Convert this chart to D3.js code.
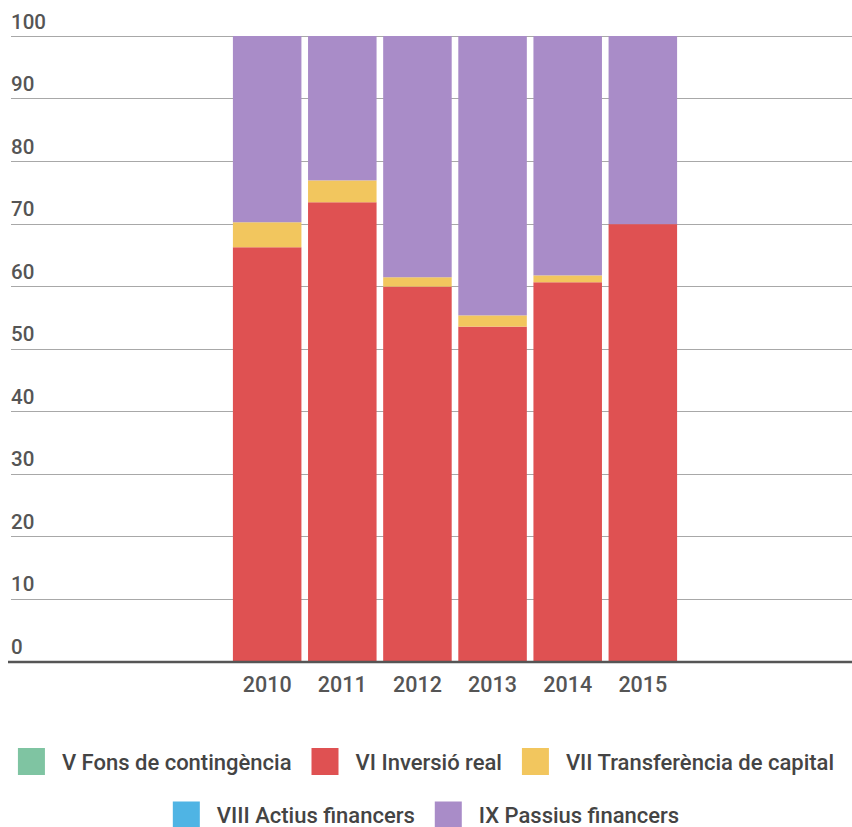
<!DOCTYPE html>
<html>
<head>
<meta charset="utf-8">
<script src="https://cdn.jsdelivr.net/npm/d3@7"></script>
<style>
  body { margin: 0; background: #fff; }
  svg { display: block; font-family: Roboto, "Noto Sans", sans-serif; }
</style>
</head>
<body>
<svg id="chart" width="852" height="827"></svg>
<script>
// Share of capital budget by chapter (%), per year
const years = ["2010", "2011", "2012", "2013", "2014", "2015"];
const seriesNames = [
  "V Fons de contingència",
  "VI Inversió real",
  "VII Transferència de capital",
  "VIII Actius financers",
  "IX Passius financers"
];
const seriesColors = ["#7fc4a2", "#df5152", "#f2c65e", "#4fb4e4", "#a98cc8"];
const fonsContingencia   = [0, 0, 0, 0, 0, 0];
const inversioReal       = [66.2, 73.4, 59.9, 53.5, 60.6, 69.9];
const transferencia      = [4.0, 3.5, 1.5, 1.8, 1.1, 0];
const actiusFinancers    = [0, 0, 0, 0, 0, 0];
const passiusFinancers   = [29.8, 23.1, 38.6, 44.7, 38.3, 30.1];
const yTicks = [0, 10, 20, 30, 40, 50, 60, 70, 80, 90, 100];

const seriesValues = [fonsContingencia, inversioReal, transferencia, actiusFinancers, passiusFinancers];
const rows = years.map((y, i) => {
  const r = { year: y };
  seriesNames.forEach((n, k) => r[n] = seriesValues[k][i]);
  return r;
});

const svg = d3.select("#chart");
const x = d3.scaleBand().domain(years).range([229.6, 680.4]).paddingInner(0.088).paddingOuter(0.044);
const y = d3.scaleLinear().domain([0, 100]).range([661, 36]);

// gridlines and y labels
const grid = svg.append("g");
grid.selectAll("line").data(yTicks.filter(d => d > 0)).join("line")
  .attr("x1", 11).attr("x2", 852)
  .attr("y1", d => Math.round(y(d)) + 0.5).attr("y2", d => Math.round(y(d)) + 0.5)
  .attr("stroke", "#a8a8a8").attr("stroke-width", 1.2);
grid.selectAll("text").data(yTicks).join("text")
  .attr("x", 11).attr("y", d => y(d) - 7.5)
  .attr("fill", "#555").attr("font-size", 20.5).attr("font-weight", 500)
  .text(d => d);

// stacked bars
const stack = d3.stack().keys(seriesNames)(rows);
svg.append("g").selectAll("g").data(stack).join("g")
  .attr("fill", (d, i) => seriesColors[i])
  .selectAll("rect").data(d => d).join("rect")
  .attr("x", d => x(d.data.year))
  .attr("width", x.bandwidth())
  .attr("y", d => y(d[1]))
  .attr("height", d => Math.max(0, y(d[0]) - y(d[1])));

// baseline
svg.append("line").attr("x1", 8).attr("x2", 852)
  .attr("y1", y(0) + 1).attr("y2", y(0) + 1)
  .attr("stroke", "#555").attr("stroke-width", 2.5);

// x labels
svg.append("g").selectAll("text").data(years).join("text")
  .attr("x", d => x(d) + x.bandwidth() / 2).attr("y", 692)
  .attr("text-anchor", "middle").attr("fill", "#555")
  .attr("font-size", 21.5).attr("font-weight", 500)
  .text(d => d);

// legend, two centred rows
const legendRows = [[0, 1, 2], [3, 4]];
const legendY = [761.5, 815];
const sw = 27, sh = 27, gapSwText = 17, gapItems = 20;
legendRows.forEach((idxs, r) => {
  const g = svg.append("g");
  let cx = 0;
  idxs.forEach(i => {
    const item = g.append("g").attr("transform", `translate(${cx},0)`);
    item.append("rect").attr("x", 0).attr("y", -sh / 2).attr("width", sw).attr("height", sh)
      .attr("fill", seriesColors[i]);
    const t = item.append("text").attr("x", sw + gapSwText).attr("y", 8)
      .attr("fill", "#444").attr("font-size", 22).attr("font-weight", 500)
      .text(seriesNames[i]);
    cx += sw + gapSwText + t.node().getComputedTextLength() + gapItems;
  });
  const total = cx - gapItems;
  g.attr("transform", `translate(${(852 - total) / 2},${legendY[r]})`);
});
</script>
</body>
</html>
